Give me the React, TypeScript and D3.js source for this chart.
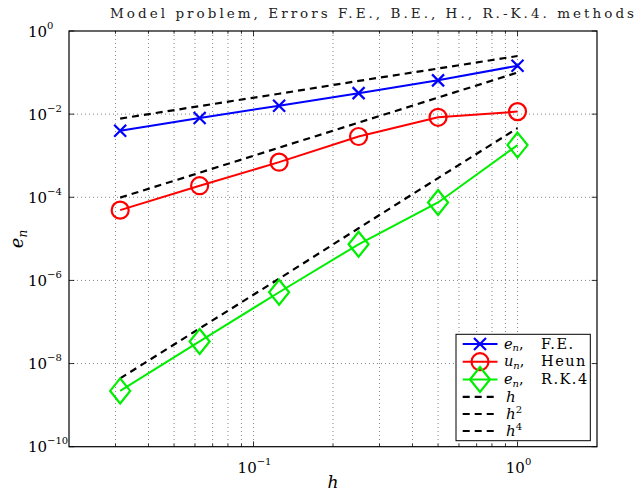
import React from "react";
import * as d3 from "d3";

// step sizes and errors
const hValues = [1 / 32, 1 / 16, 1 / 8, 1 / 4, 1 / 2, 1];
const errFE = [4.0e-3, 8.1e-3, 1.6e-2, 3.2e-2, 6.5e-2, 0.146];
const errHeun = [4.9e-5, 1.9e-4, 7.0e-4, 2.9e-3, 8.4e-3, 1.15e-2];
const errRK4 = [2.2e-9, 3.4e-8, 5.2e-7, 7.4e-6, 7.5e-5, 1.8e-3];
// reference slopes h, h^2, h^4
const refH = [7.8e-3, 1.56e-2, 3.1e-2, 6.3e-2, 0.125, 0.25];
const refH2 = [9.8e-5, 3.9e-4, 1.56e-3, 6.25e-3, 2.5e-2, 0.1];
const refH4 = [4.4e-9, 7.0e-8, 1.1e-6, 1.8e-5, 2.9e-4, 4.6e-3];

const xTickValues = [0.1, 1];
const xTickExps = ["−1", "0"];
const xMinorValues = [0.03, 0.04, 0.05, 0.06, 0.07, 0.08, 0.09, 0.2, 0.3, 0.4, 0.5, 0.6, 0.7, 0.8, 0.9];
const yTickValues = [1, 1e-2, 1e-4, 1e-6, 1e-8, 1e-10];
const yTickExps = ["0", "−2", "−4", "−6", "−8", "−10"];

const titleText = "Model problem, Errors F.E., B.E., H., R.-K.4. methods";

const W = 636;
const H = 494;
const left = 69, right = 597, top = 31, bottom = 446.7;
const FONT = '"DejaVu Serif", "Liberation Serif", serif';

const x = d3.scaleLog().domain([0.02, 2]).range([left, right]);
const y = d3.scaleLog().domain([1e-10, 1]).range([bottom, top]);

const line = d3
  .line<number>()
  .x((_, i) => x(hValues[i]))
  .y((d) => y(d));

const Cross = ({ cx, cy }: { cx: number; cy: number }) => (
  <path d={`M${cx - 6},${cy - 6}L${cx + 6},${cy + 6}M${cx - 6},${cy + 6}L${cx + 6},${cy - 6}`} stroke="#0000ff" strokeWidth={2.2} fill="none" />
);
const Circle = ({ cx, cy }: { cx: number; cy: number }) => (
  <circle cx={cx} cy={cy} r={8.5} stroke="#ff0000" strokeWidth={2.2} fill="none" />
);
const Diamond = ({ cx, cy }: { cx: number; cy: number }) => (
  <path d={`M${cx},${cy - 12.5}L${cx + 10},${cy}L${cx},${cy + 12.5}L${cx - 10},${cy}Z`} stroke="#00ee00" strokeWidth={2.2} fill="none" />
);

const series = [
  { values: errFE, color: "#0000ff", Marker: Cross },
  { values: errHeun, color: "#ff0000", Marker: Circle },
  { values: errRK4, color: "#00ee00", Marker: Diamond },
];
const refs = [refH, refH2, refH4];

export default function App() {
  const gridX = [...xMinorValues, ...xTickValues];
  const legendRows = [344, 361.7, 379.5, 396.8, 414, 431];
  return (
    <svg width={W} height={H} style={{ position: "absolute", left: 0, top: 0, background: "#fff", fontFamily: FONT }}>
      <rect width={W} height={H} fill="#fff" />
      {/* grid */}
      <g stroke="#333" strokeWidth={0.6} strokeDasharray="1,3">
        {gridX.map((v) => (
          <line key={`gx${v}`} x1={x(v)} x2={x(v)} y1={top} y2={bottom} />
        ))}
        {yTickValues.slice(1, -1).map((v) => (
          <line key={`gy${v}`} x1={left} x2={right} y1={y(v)} y2={y(v)} />
        ))}
      </g>
      {/* reference lines */}
      {refs.map((r, i) => (
        <path key={`r${i}`} d={line(r) || ""} stroke="#000" strokeWidth={2.2} strokeDasharray="7,5" fill="none" />
      ))}
      {/* series */}
      {series.map((s, i) => (
        <g key={`s${i}`}>
          <path d={line(s.values) || ""} stroke={s.color} strokeWidth={2} fill="none" />
          {s.values.map((v, j) => (
            <s.Marker key={j} cx={x(hValues[j])} cy={y(v)} />
          ))}
        </g>
      ))}
      {/* axes box and ticks */}
      <rect x={left} y={top} width={right - left} height={bottom - top} fill="none" stroke="#000" strokeWidth={1.2} />
      <g stroke="#000" strokeWidth={0.8}>
        {xTickValues.map((v) => (
          <g key={`xt${v}`}>
            <line x1={x(v)} x2={x(v)} y1={bottom} y2={bottom - 5.3} />
            <line x1={x(v)} x2={x(v)} y1={top} y2={top + 5.3} />
          </g>
        ))}
        {xMinorValues.map((v) => (
          <g key={`xm${v}`}>
            <line x1={x(v)} x2={x(v)} y1={bottom} y2={bottom - 2.8} />
            <line x1={x(v)} x2={x(v)} y1={top} y2={top + 2.8} />
          </g>
        ))}
        {yTickValues.map((v) => (
          <g key={`yt${v}`}>
            <line x1={left} x2={left + 5.3} y1={y(v)} y2={y(v)} />
            <line x1={right} x2={right - 5.3} y1={y(v)} y2={y(v)} />
          </g>
        ))}
      </g>
      {/* tick labels */}
      {yTickValues.map((v, i) => (
        <text key={`yl${v}`} x={28} y={y(v) + 5.5} fontSize={15} fill="#000">
          10
          <tspan dy={-8} fontSize={10}>{yTickExps[i]}</tspan>
        </text>
      ))}
      {xTickValues.map((v, i) => (
        <text key={`xl${v}`} x={x(v) + 1} y={472.7} fontSize={15} textAnchor="middle" fill="#000">
          10
          <tspan dy={-8} fontSize={10}>{xTickExps[i]}</tspan>
        </text>
      ))}
      {/* title and axis labels */}
      <text x={110} y={18} fontSize={13.5} textLength={524} lengthAdjust="spacing" fill="#222">
        {titleText}
      </text>
      <text x={333} y={488} fontSize={17} fontStyle="italic" textAnchor="middle" fill="#000">h</text>
      <text transform="translate(23,239) rotate(-90)" fontSize={18} fontStyle="italic" textAnchor="middle" fill="#000">
        e<tspan fontSize={12} dy={4}>n</tspan>
      </text>
      {/* legend */}
      <rect x={456} y={334.3} width={134.3} height={106.4} fill="#fff" stroke="#000" strokeWidth={1} />
      {series.map((s, i) => (
        <g key={`lg${i}`}>
          <line x1={462.7} x2={497.5} y1={legendRows[i]} y2={legendRows[i]} stroke={s.color} strokeWidth={2} />
          <s.Marker cx={480} cy={legendRows[i]} />
        </g>
      ))}
      {refs.map((_, i) => (
        <line key={`lr${i}`} x1={462.7} x2={497.5} y1={legendRows[i + 3]} y2={legendRows[i + 3]} stroke="#000" strokeWidth={2.2} strokeDasharray="7,5" />
      ))}
      {[
        ["e", "F.E."],
        ["u", "Heun"],
        ["e", "R.K.4"],
      ].map(([sym, name], i) => (
        <text key={`lt${i}`} x={504} y={legendRows[i] + 4.5} fontSize={14.5} fill="#000">
          <tspan fontStyle="italic">{sym}</tspan>
          <tspan fontStyle="italic" fontSize={10} dy={2.5}>n</tspan>
          <tspan dy={-2.5}>,</tspan>
          <tspan x={541} letterSpacing={1.5}>{name}</tspan>
        </text>
      ))}
      {["", "2", "4"].map((p, i) => (
        <text key={`lh${i}`} x={506} y={legendRows[i + 3] + 5} fontSize={15} fontStyle="italic" fill="#000">
          h<tspan fontStyle="normal" fontSize={10} dy={-6}>{p}</tspan>
        </text>
      ))}
    </svg>
  );
}
